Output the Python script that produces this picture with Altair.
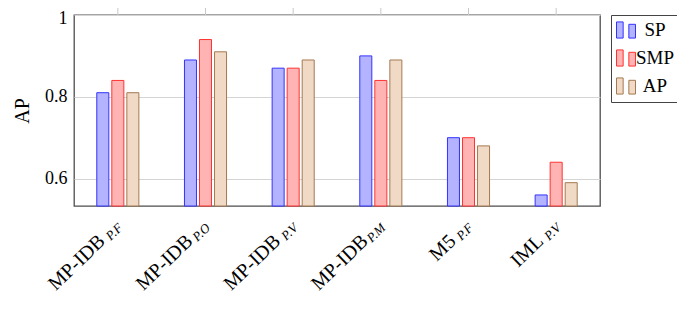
import altair as alt
import pandas as pd

# ---- data ----
CLASS_MAIN = ["MP-IDB", "MP-IDB", "MP-IDB", "MP-IDB", "M5", "IML"]
CLASS_SUB = ["P.F", "P.O", "P.V", "P.M", "P.F", "P.V"]
METHODS = ["SP", "SMP", "AP"]
SP = [0.81, 0.89, 0.87, 0.90, 0.70, 0.56]
SMP = [0.84, 0.94, 0.87, 0.84, 0.70, 0.64]
AP = [0.81, 0.91, 0.89, 0.89, 0.68, 0.59]
Y_TICKS = [0.6, 0.8, 1.0]
Y_MIN, Y_MAX = 0.533, 1.0

FILLS = ["#b3b3ff", "#ffb3b3", "#f0d9c5"]
STROKES = ["#3333ff", "#ff3333", "#a47a52"]

classes = [m + s for m, s in zip(CLASS_MAIN, CLASS_SUB)]
rows = []
for method, vals in zip(METHODS, [SP, SMP, AP]):
    for c, v in zip(classes, vals):
        rows.append({"cls": c, "method": method, "ap": v})
bars_df = pd.DataFrame(rows)
labels_df = pd.DataFrame({"cls": classes, "main": CLASS_MAIN, "sub": CLASS_SUB})

W, H = 526, 191
FONT = "'Liberation Serif', 'DejaVu Serif', serif"
SYMBOL = "M-1,-0.85H-0.3V0.85H-1Z M0.3,-0.6H1V0.85H0.3Z"

x_scale = alt.Scale(paddingInner=0.52, paddingOuter=0.26)

legend = alt.Legend(
    title=None, orient="none", legendX=537, legendY=0,
    symbolType=SYMBOL, symbolSize=361, symbolStrokeWidth=1,
    labelFont=FONT, labelFontSize=19, labelColor="black",
    labelAlign="center", labelOffset=19,
    rowPadding=6, padding=5, fillColor="white",
    strokeColor="#444444", cornerRadius=0,
)

bars = alt.Chart(bars_df).mark_bar(strokeWidth=1).encode(
    x=alt.X("cls:N", sort=classes, scale=x_scale,
            axis=alt.Axis(labels=False, domain=False, grid=False, ticks=True,
                          tickSize=7, tickColor="#c8c8c8", title="Class",
                          titleFont=FONT, titleFontSize=20, titleFontWeight="normal",
                          titleColor="black", titleY=101)),
    xOffset=alt.XOffset("method:N", sort=METHODS,
                        scale=alt.Scale(paddingInner=0.2, paddingOuter=0)),
    y=alt.Y("ap:Q", scale=alt.Scale(domain=[Y_MIN, Y_MAX], zero=False, nice=False),
            axis=alt.Axis(values=Y_TICKS, format="~g", domain=False, ticks=False,
                          grid=True, gridColor="#d4d4d4", gridWidth=1,
                          labelFont=FONT, labelFontSize=18, labelColor="black",
                          labelPadding=7,
                          labelOffset={"condition": {"test": "datum.value >= 1", "value": 3},
                                       "value": 0},
                          title="AP", titleFont=FONT,
                          titleFontSize=20, titleFontWeight="normal",
                          titleColor="black", titlePadding=12)),
    y2=alt.datum(Y_MIN),
    fill=alt.Fill("method:N", sort=METHODS,
                  scale=alt.Scale(domain=METHODS, range=FILLS), legend=legend),
    stroke=alt.Stroke("method:N", sort=METHODS,
                      scale=alt.Scale(domain=METHODS, range=STROKES), legend=legend),
)

top_ticks = alt.Chart(labels_df).mark_rule(color="#c8c8c8", strokeWidth=1).encode(
    x=alt.X("cls:N", sort=classes, axis=None),
    y=alt.value(-7),
    y2=alt.value(0),
)

sub_text = alt.Chart(labels_df).mark_text(
    angle=316, align="right", baseline="middle", font=FONT, fontSize=13,
    fontStyle="italic", dy=4, color="black",
).encode(
    x=alt.X("cls:N", sort=classes, axis=None),
    y=alt.value(H + 17),
    text="sub:N",
)

main_text = alt.Chart(labels_df).mark_text(
    angle=316, align="right", baseline="middle", font=FONT, fontSize=20,
    dx=-22, color="black",
).encode(
    x=alt.X("cls:N", sort=classes, axis=None),
    y=alt.value(H + 17),
    text="main:N",
)

chart = alt.layer(bars, top_ticks, sub_text, main_text).properties(
    width=W, height=H,
    autosize=alt.AutoSizeParams(type="none"),
    padding={"left": 66, "top": 7, "right": 77, "bottom": 117},
).configure_view(
    stroke="#4d4d4d", strokeWidth=1.3,
)

chart.save("out.html", embed_options={"renderer": "svg", "actions": False})
